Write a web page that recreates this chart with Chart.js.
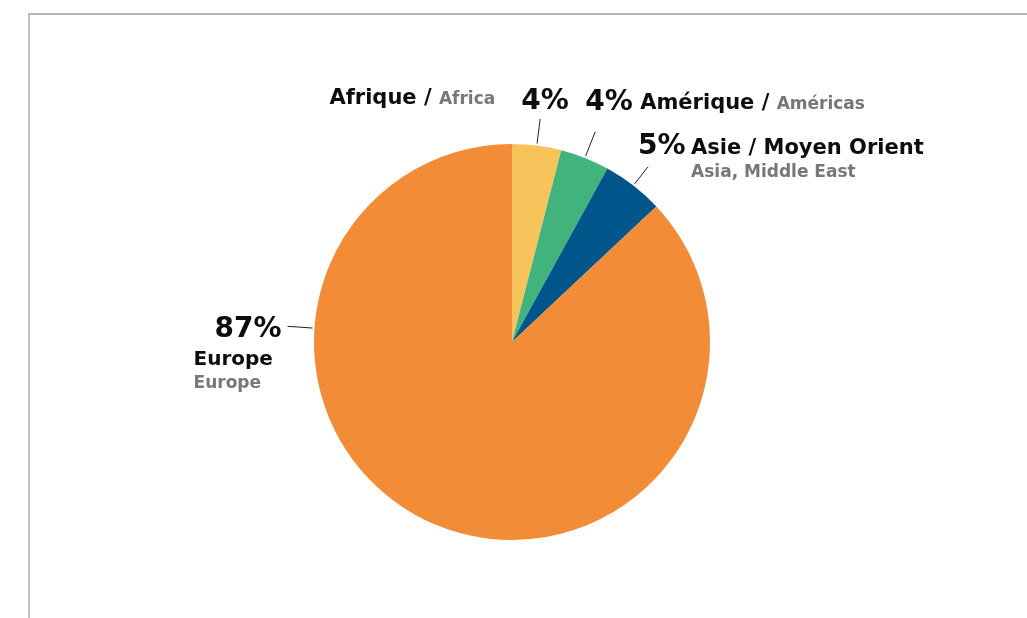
<!DOCTYPE html>
<html>
<head>
<meta charset="utf-8">
<script src="https://cdn.jsdelivr.net/npm/chart.js@4"></script>
<style>
  html, body { margin: 0; padding: 0; background: #fff; }
  #wrap { position: relative; width: 1027px; height: 618px; }
  #frame { position: absolute; left: 28px; top: 13px; right: 0; bottom: 0;
           border-top: 2px solid #b4b4b4; border-left: 2px solid #c4c4c4; }
  canvas { position: absolute; left: 0; top: 0; }
</style>
</head>
<body>
<div id="wrap">
  <div id="frame"></div>
  <canvas id="regionChart" width="1027" height="618"></canvas>
</div>
<script>
// share by region, clockwise from 12 o'clock
const regionsFr = ['Afrique', 'Amérique', 'Asie / Moyen Orient', 'Europe'];
const regionsEn = ['Africa', 'Américas', 'Asia, Middle East', 'Europe'];
const shares = [4, 4, 5, 87];
const colors = ['#F9C35C', '#41B37D', '#00558B', '#F28C36'];

const FONT = '"DejaVu Sans", sans-serif';
const BLACK = '#0d0d0d';
const GREY = '#777777';

// leader line angle (degrees clockwise from top), null = slice middle
const leaderAngle = [null, null, null, 274];
const leaderLen = [27, 28, 24, 27];

// text runs for each slice, offsets from the outer end of its leader line
function labelRuns(i) {
  const pct = shares[i] + '%';
  switch (i) {
    case 0: return [
      { t: pct, dx: -19, dy: -10, size: 28, align: 'left' },
      { parts: [[regionsFr[0] + ' / ', BLACK, 21], [regionsEn[0], GREY, 17]], dx: -45, dy: -15, align: 'right' }
    ];
    case 1: return [
      { t: pct, dx: -10, dy: -22, size: 28, align: 'left' },
      { parts: [[regionsFr[1] + ' / ', BLACK, 21], [regionsEn[1], GREY, 17]], dx: 45, dy: -23, align: 'left' }
    ];
    case 2: return [
      { t: pct, dx: -10, dy: -13, size: 28, align: 'left' },
      { parts: [[regionsFr[2], BLACK, 21]], dx: 43, dy: -13, align: 'left' },
      { parts: [[regionsEn[2], GREY, 17]], dx: 43, dy: 10, align: 'left' }
    ];
    default: return [
      { t: pct, dx: -6, dy: 11, size: 28, align: 'right' },
      { parts: [[regionsFr[3], BLACK, 20]], dx: -94, dy: 39, align: 'left' },
      { parts: [[regionsEn[3], GREY, 17]], dx: -94, dy: 62, align: 'left' }
    ];
  }
}

const calloutPlugin = {
  id: 'callouts',
  afterDraw(chart) {
    const ctx = chart.ctx;
    const arcs = chart.getDatasetMeta(0).data;
    ctx.save();
    ctx.textBaseline = 'alphabetic';
    arcs.forEach((arc, i) => {
      const p = arc.getProps(['x', 'y', 'startAngle', 'endAngle', 'outerRadius'], true);
      const a = leaderAngle[i] === null
        ? (p.startAngle + p.endAngle) / 2
        : (leaderAngle[i] - 90) * Math.PI / 180;
      const r0 = p.outerRadius + 2;
      const r1 = p.outerRadius + leaderLen[i];
      const x0 = p.x + Math.cos(a) * r0, y0 = p.y + Math.sin(a) * r0;
      const x1 = p.x + Math.cos(a) * r1, y1 = p.y + Math.sin(a) * r1;
      ctx.strokeStyle = '#222';
      ctx.lineWidth = 1;
      ctx.beginPath();
      ctx.moveTo(x0, y0);
      ctx.lineTo(x1, y1);
      ctx.stroke();

      labelRuns(i).forEach(run => {
        const parts = run.parts || [[run.t, BLACK, run.size]];
        const widths = parts.map(([txt, , size]) => {
          ctx.font = 'bold ' + size + 'px ' + FONT;
          return ctx.measureText(txt).width;
        });
        const total = widths.reduce((s, w) => s + w, 0);
        let x = x1 + run.dx - (run.align === 'right' ? total : 0);
        parts.forEach(([txt, col, size], k) => {
          ctx.font = 'bold ' + size + 'px ' + FONT;
          ctx.fillStyle = col;
          ctx.textAlign = 'left';
          ctx.fillText(txt, x, y1 + run.dy);
          x += widths[k];
        });
      });
    });
    ctx.restore();
  }
};

new Chart(document.getElementById('regionChart'), {
  type: 'pie',
  data: {
    labels: regionsFr,
    datasets: [{
      data: shares,
      backgroundColor: colors,
      borderWidth: 0
    }]
  },
  options: {
    responsive: false,
    animation: false,
    layout: { padding: { left: 314, right: 317, top: 144, bottom: 78 } },
    plugins: {
      legend: { display: false },
      tooltip: { enabled: false }
    }
  },
  plugins: [calloutPlugin]
});
</script>
</body>
</html>
